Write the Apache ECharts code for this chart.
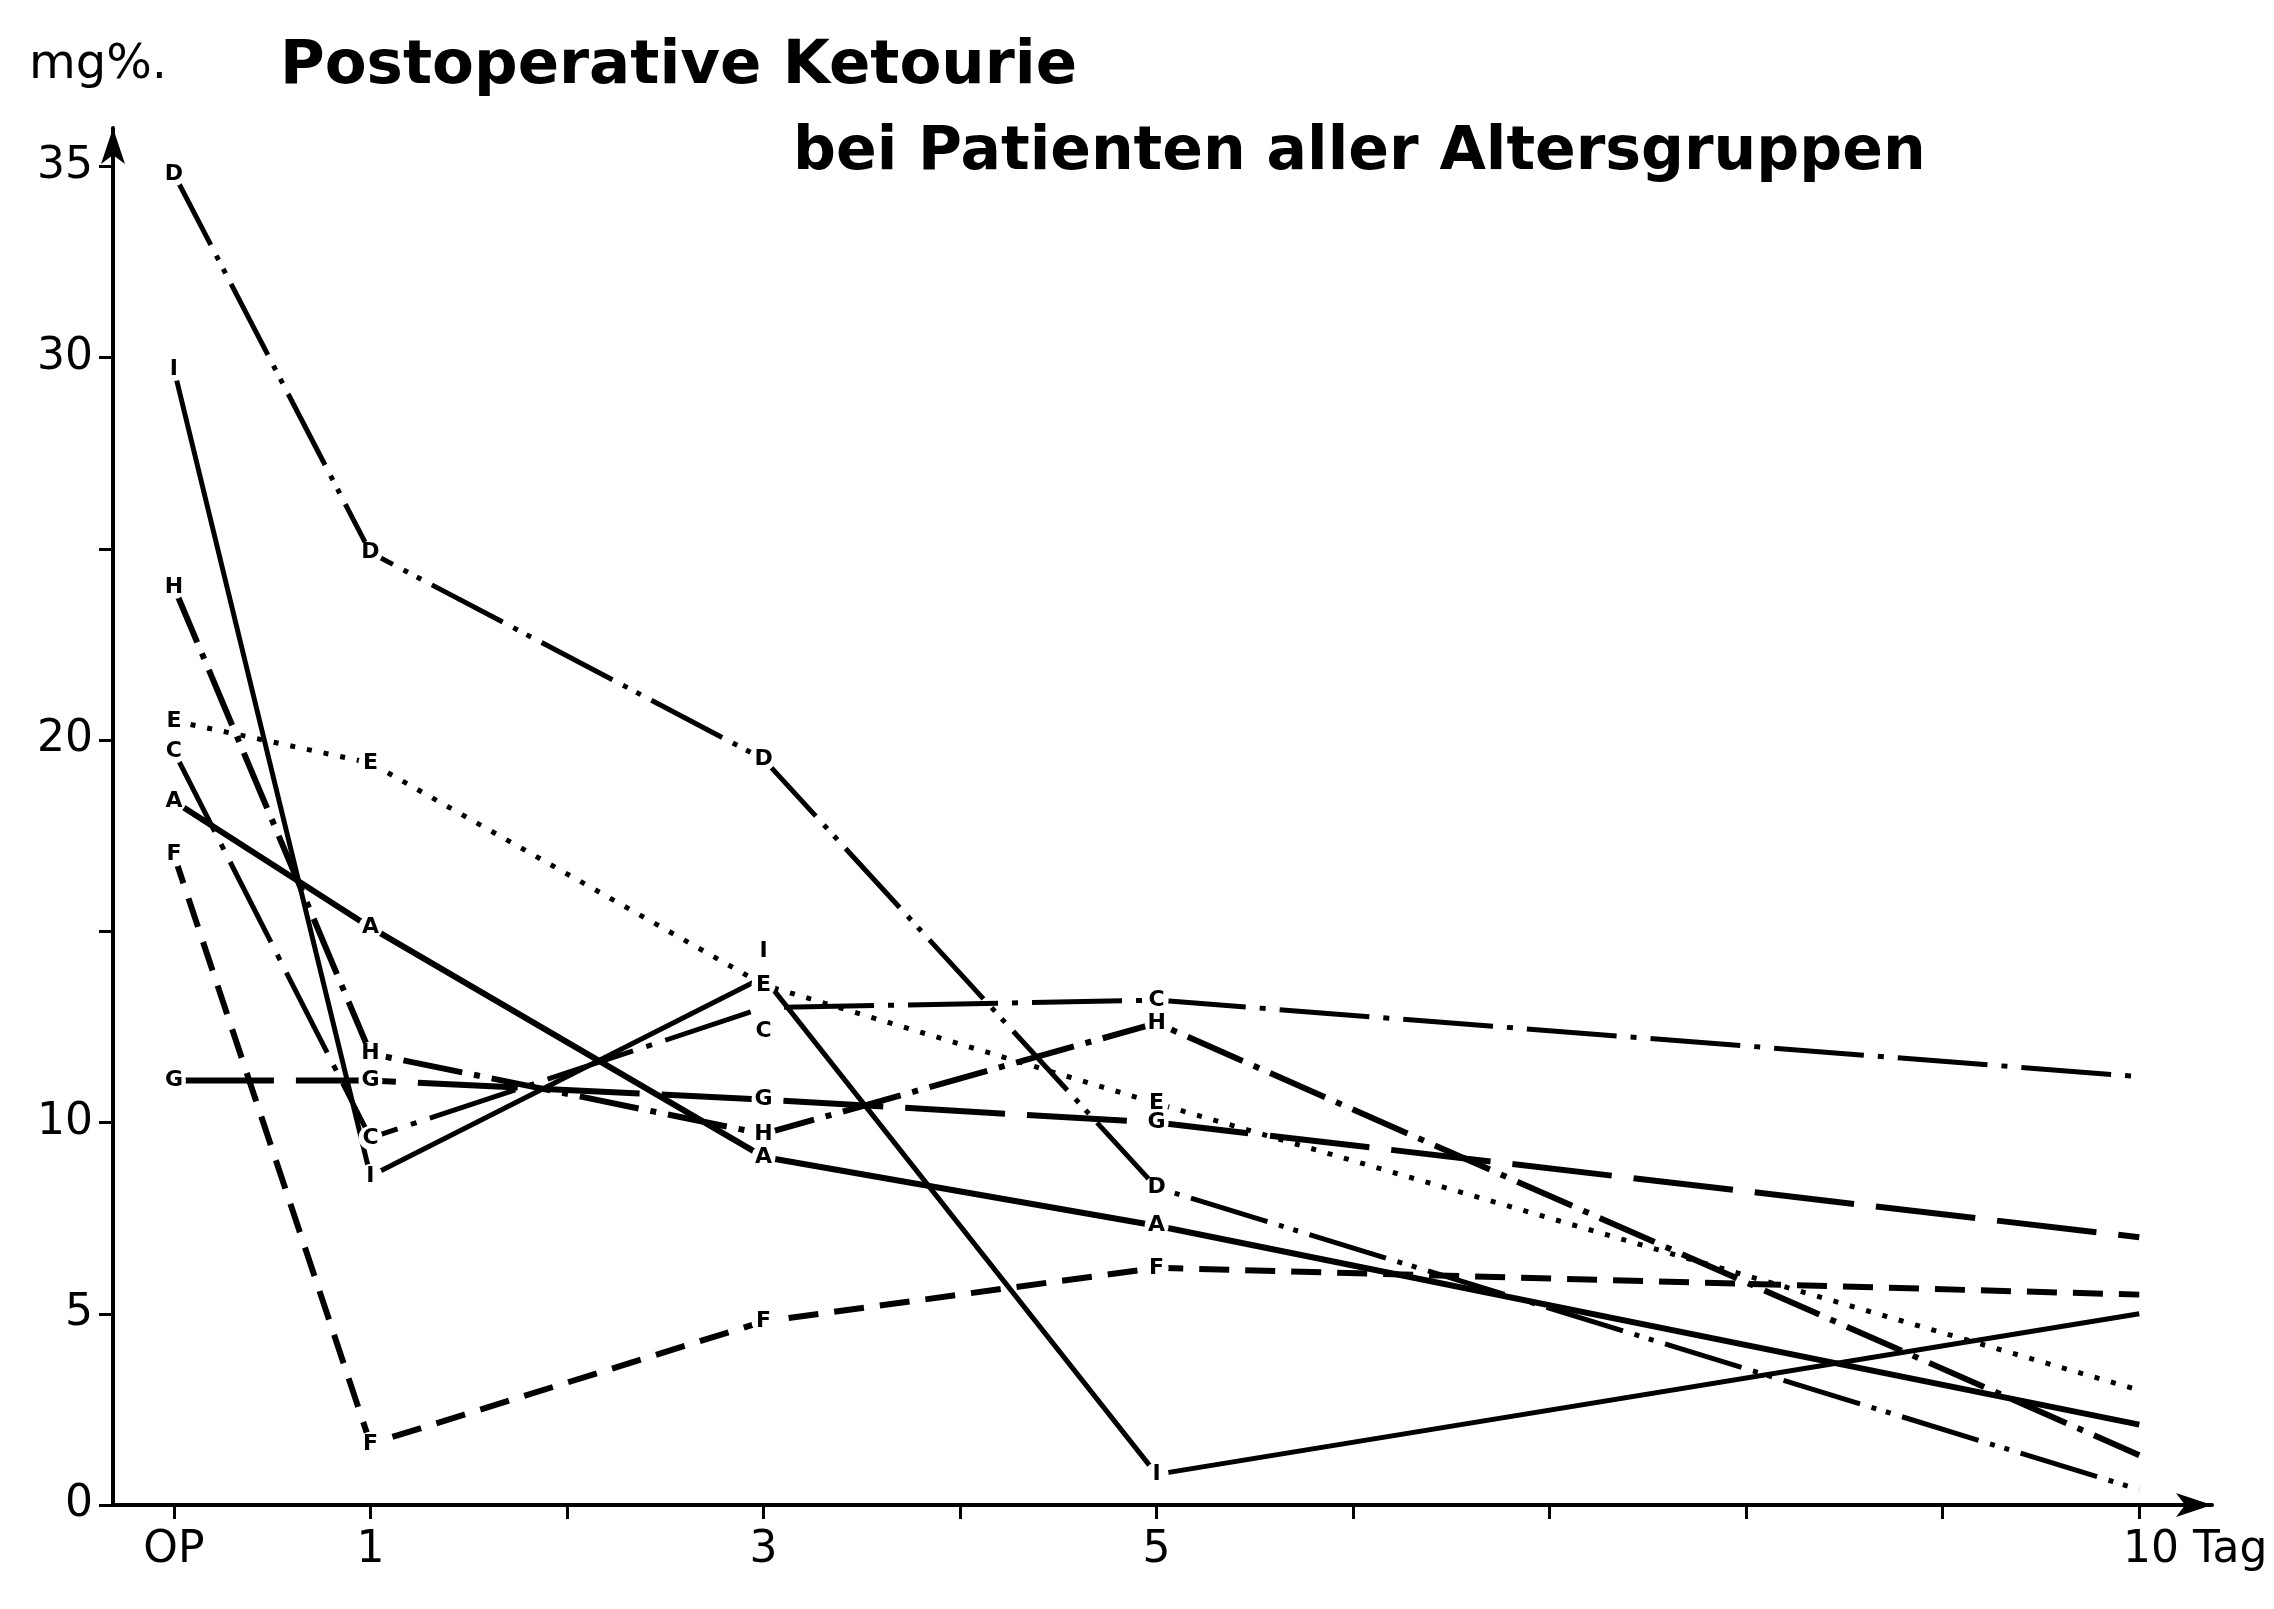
<!DOCTYPE html>
<html>
<head>
<meta charset="utf-8">
<script src="https://cdn.jsdelivr.net/npm/echarts@6/dist/echarts.min.js"></script>
<style>
  html, body { margin: 0; padding: 0; background: #fff; }
  #chart { width: 2274px; height: 1609px; }
</style>
</head>
<body>
<div id="chart"></div>
<script>
// Tage nach der Operation (OP = 0)
const days = [0, 1, 3, 5, 10]
const letters = ['A', 'C', 'D', 'E', 'F', 'G', 'H', 'I']

// mg% je Patientengruppe
const serA = [18.4, 15.1, 9.1, 7.3, 2.1]
const serC = [19.7, 9.6, 13.0, 13.2, 11.2]
const serD = [34.8, 24.9, 19.5, 8.3, 0.4]
const serE = [20.5, 19.4, 13.6, 10.5, 3.0]
const serF = [17.0, 1.6, 4.8, 6.2, 5.5]
const serG = [11.1, 11.1, 10.6, 10.0, 7.0]
const serH = [24.0, 11.8, 9.7, 12.6, 1.3]
const serI = [29.7, 8.6, 13.8, 0.8, 5.0]

const xTicks = [0, 1, 2, 3, 4, 5, 6, 7, 8, 9, 10]
const xLabels = [0, 1, 3, 5, 10]
const yTicks = [0, 5, 10, 15, 20, 25, 30, 35]
const yLabels = [0, 5, 10, 20, 30, 35]

const values = { A: serA, C: serC, D: serD, E: serE, F: serF, G: serG, H: serH, I: serI }

const lineStyles = {
  A: { type: 'solid', width: 6 },
  C: { type: [90, 14, 6, 14], width: 5 },
  D: { type: [80, 12, 5, 10, 5, 12], width: 5 },
  E: { type: [5, 12], width: 5 },
  F: { type: [30, 16], width: 6 },
  G: { type: [100, 22], width: 6 },
  H: { type: [60, 12, 6, 12], width: 6 },
  I: { type: 'solid', width: 5 },
}

// Buchstaben, die sich sonst überdecken
const labelShift = {
  I: { 2: [0, -26] },
  C: { 2: [0, 24] },
}

const FONT = 'DejaVu Sans'

const series = letters.map(k => ({
  name: k,
  type: 'line',
  symbol: 'circle',
  symbolSize: 24,
  itemStyle: { color: '#fff', borderWidth: 0 },
  lineStyle: { color: '#000', ...lineStyles[k] },
  label: {
    show: true,
    position: 'inside',
    formatter: k,
    fontFamily: FONT,
    fontSize: 22,
    fontWeight: 'bold',
    color: '#000',
  },
  z: 2,
  data: days.map((d, i) => {
    const p = { value: [d, values[k][i]] }
    if (i === days.length - 1) {
      p.symbol = 'none'
      p.label = { show: false }
    } else if (labelShift[k] && labelShift[k][i]) {
      p.label = { offset: labelShift[k][i] }
    }
    return p
  }),
}))

const chart = echarts.init(document.getElementById('chart'))

chart.setOption({
  backgroundColor: '#ffffff',
  animation: false,
  title: [
    {
      text: 'Postoperative Ketourie',
      left: 275, top: 32,
      textStyle: { fontFamily: FONT, fontSize: 61, fontWeight: 'bold', color: '#000' },
    },
    {
      text: 'bei Patienten aller Altersgruppen',
      left: 788, top: 118,
      textStyle: { fontFamily: FONT, fontSize: 60, fontWeight: 'bold', color: '#000' },
    },
  ],
  graphic: [{
    type: 'text',
    left: 29, top: 42,
    style: { text: 'mg%.', fontFamily: FONT, fontSize: 48, fill: '#000' },
  }],
  grid: { left: 113, right: 62, top: 128, bottom: 104 },
  xAxis: {
    type: 'value',
    min: -0.31,
    max: 10.37,
    axisLine: {
      onZero: false,
      symbol: ['none', 'arrow'],
      symbolSize: [18, 36],
      lineStyle: { color: '#000', width: 4 },
    },
    axisTick: {
      customValues: xTicks,
      length: 14,
      lineStyle: { color: '#000', width: 3 },
    },
    axisLabel: {
      customValues: xLabels,
      margin: 24,
      fontFamily: FONT,
      fontSize: 44,
      color: '#000',
      formatter: v => v === 0 ? 'OP' : v === 10 ? '{t|10 Tag}' : String(v),
      rich: { t: { fontFamily: FONT, fontSize: 44, color: '#000', padding: [0, 0, 0, 112] } },
    },
    splitLine: { show: false },
  },
  yAxis: {
    type: 'value',
    min: 0,
    max: 36,
    axisLine: {
      onZero: false,
      symbol: ['none', 'arrow'],
      symbolSize: [18, 36],
      lineStyle: { color: '#000', width: 4 },
    },
    axisTick: {
      customValues: yTicks,
      length: 14,
      lineStyle: { color: '#000', width: 3 },
    },
    axisLabel: {
      customValues: yLabels,
      margin: 20,
      fontFamily: FONT,
      fontSize: 44,
      color: '#000',
    },
    splitLine: { show: false },
  },
  series,
})
</script>
</body>
</html>
